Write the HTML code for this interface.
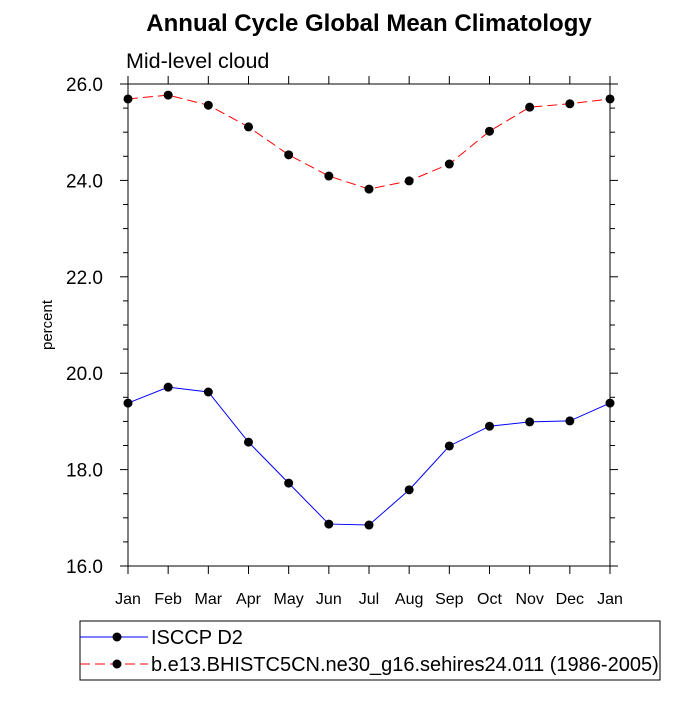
<!DOCTYPE html>
<html><head><meta charset="utf-8"><style>
body{margin:0;background:#fff}
svg{font-family:"Liberation Sans",sans-serif}
</style></head><body>
<svg id="c" width="700" height="700" viewBox="0 0 700 700">
<text x="369" y="31" font-size="24" font-weight="bold" text-anchor="middle">Annual Cycle Global Mean Climatology</text>
<text x="126" y="68" font-size="21.5">Mid-level cloud</text>
<text transform="translate(52,325) rotate(-90)" font-size="15" text-anchor="middle">percent</text>
<g id="axes"></g>
<g id="series"></g>
<rect x="80" y="621" width="580" height="59" fill="none" stroke="#000" stroke-width="1"/>
<g>
<line x1="80" y1="637" x2="148" y2="637" stroke="#00f" stroke-width="1"/>
<circle cx="117" cy="637" r="4.5" fill="#000"/>
<text x="151" y="644" font-size="20">ISCCP D2</text>
</g>
<g>
<line x1="80" y1="664" x2="148" y2="664" stroke="#f00" stroke-width="1" stroke-dasharray="10,5"/>
<circle cx="117" cy="664" r="4.5" fill="#000"/>
<text x="151" y="671" font-size="20">b.e13.BHISTC5CN.ne30_g16.sehires24.011 (1986-2005)</text>
</g>
</svg>
<script>
const months=["Jan","Feb","Mar","Apr","May","Jun","Jul","Aug","Sep","Oct","Nov","Dec","Jan"];
const isccp=[19.38,19.71,19.61,18.57,17.72,16.87,16.85,17.58,18.49,18.90,18.99,19.01,19.38];
const model=[25.69,25.77,25.56,25.11,24.53,24.09,23.82,23.99,24.34,25.02,25.52,25.59,25.69];
const yTicks=["16.0","18.0","20.0","22.0","24.0","26.0"];
const L=128,R=610,T=84,B=566,ymin=16,ymax=26;
const xs=i=>L+(R-L)*i/(months.length-1);
const ys=v=>B-(B-T)*(v-ymin)/(ymax-ymin);
const NS="http://www.w3.org/2000/svg";
const ax=document.getElementById('axes'),se=document.getElementById('series');
function mk(tag,at,par){const e=document.createElementNS(NS,tag);for(const k in at)e.setAttribute(k,at[k]);par.appendChild(e);return e;}
const fr=mk('rect',{x:L,y:T,width:R-L,height:B-T,fill:'none',stroke:'#000','stroke-width':1},ax);


months.forEach((m,i)=>{const x=xs(i);
mk('line',{x1:x,y1:B,x2:x,y2:B+8,stroke:'#000'},ax);
mk('line',{x1:x,y1:T,x2:x,y2:T-8,stroke:'#000'},ax);
const t=mk('text',{x:x,y:B+38,'font-size':16,'text-anchor':'middle'},ax);t.textContent=m;


});
for(let v=ymin;v<=ymax+1e-9;v+=0.5){const y=ys(v);const major=Math.abs(v-Math.round(v/2)*2)<1e-9;const len=major?8:5;
mk('line',{x1:L,y1:y,x2:L-len,y2:y,stroke:'#000'},ax);
mk('line',{x1:R,y1:y,x2:R+len,y2:y,stroke:'#000'},ax);}
yTicks.forEach(s=>{const t=mk('text',{x:L-25,y:ys(parseFloat(s))+7,'font-size':19,'text-anchor':'end'},ax);t.textContent=s;


});
function draw(arr,col,dash,name){
const p=mk('polyline',{points:arr.map((v,i)=>xs(i)+','+ys(v)).join(' '),fill:'none',stroke:col,'stroke-width':1,'stroke-dasharray':dash},se);


arr.forEach((v,i)=>{const c=mk('circle',{cx:xs(i),cy:ys(v),r:4.5,fill:'#000'},se);

});
}
draw(isccp,'#00f','none','isccp');
draw(model,'#f00','10,5','model');
</script>
</body></html>
